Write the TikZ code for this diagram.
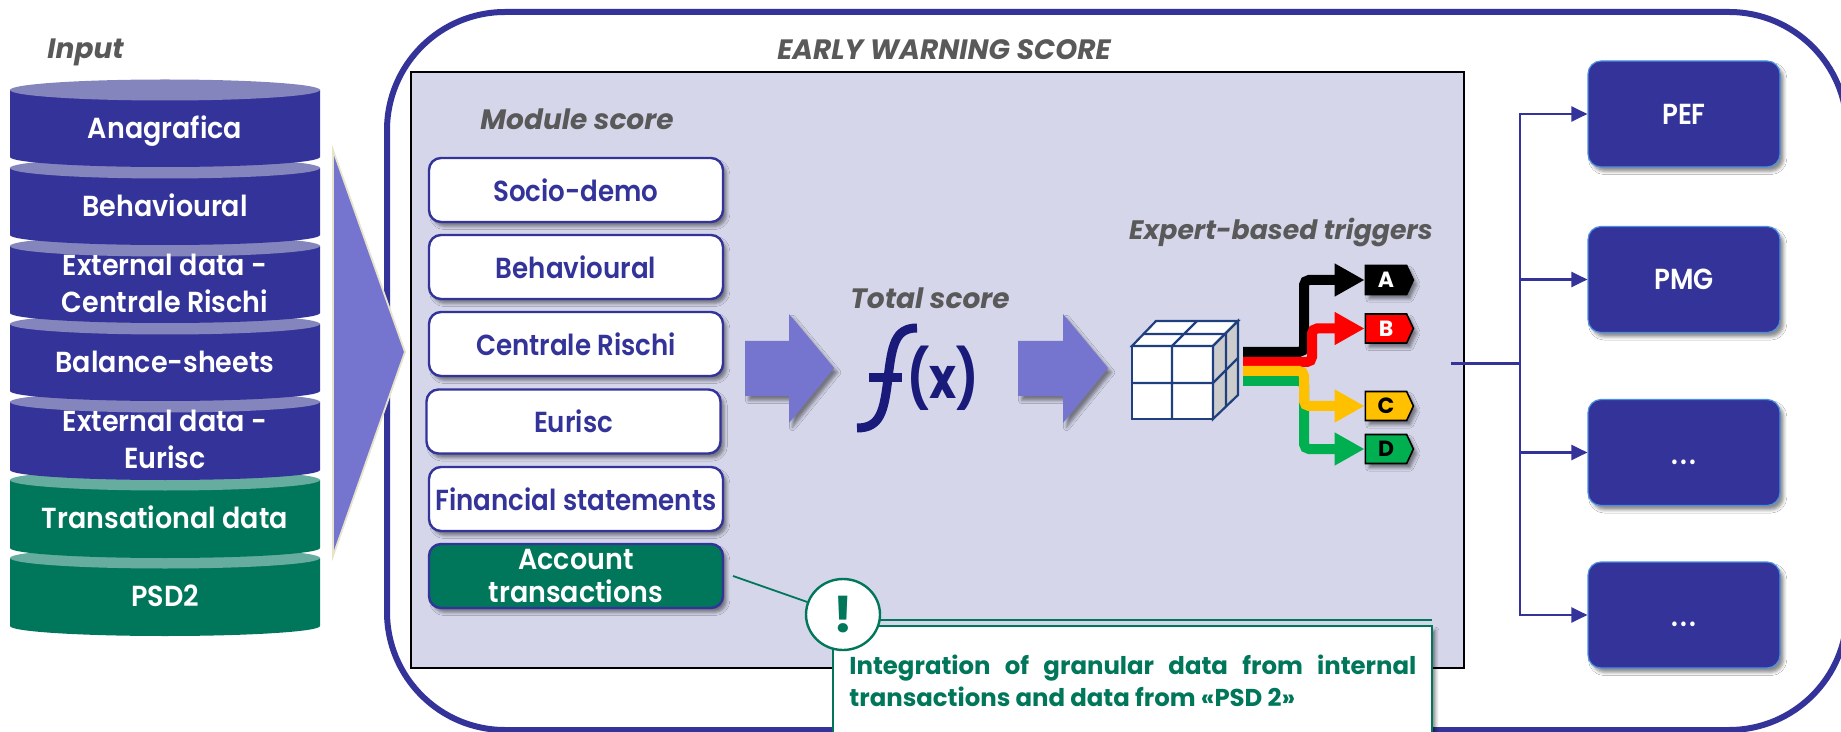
\documentclass[tikz,border=0pt]{standalone}
\usepackage{fontspec}
\setmainfont{Poppins}
\newfontfamily\cylf[FakeStretch=.93,BoldFont={Poppins SemiBold}]{Poppins}
\newfontfamily\modf[FakeStretch=.90,BoldFont={Poppins SemiBold}]{Poppins}
\usetikzlibrary{shadows,shadows.blur,arrows.meta,shapes.geometric,shapes.symbols}
\definecolor{navy}{HTML}{333399}
\definecolor{navyl}{HTML}{8585BD}
\definecolor{teal}{HTML}{00775A}
\definecolor{teall}{HTML}{66ADA0}
\definecolor{panel}{HTML}{D5D6EA}
\definecolor{arrowc}{HTML}{7575D0}
\definecolor{greyt}{HTML}{595959}
\definecolor{fxc}{HTML}{1A1A7A}
\definecolor{cubeb}{HTML}{1F3F7F}
\definecolor{tripg}{HTML}{00B050}
\definecolor{tripy}{HTML}{FFC000}
\definecolor{edgeb}{HTML}{4A90E2}
\definecolor{cream}{HTML}{E8E4CC}
\tikzset{
  softshadow/.style={blur shadow={shadow xshift=1.8pt,shadow yshift=-2.2pt,shadow blur radius=1.6pt,shadow opacity=45}},
  lab/.style={font=\cylf\fontsize{14.5}{18.5}\selectfont\bfseries,align=center,inner sep=0,text=white},
  head/.style={font=\fontsize{14}{16}\selectfont\bfseries\itshape,text=greyt,inner sep=0},
  mod/.style={draw=navy,line width=1.2pt,fill=white,rounded corners=6pt,minimum width=147pt,minimum height=32pt,inner sep=0,softshadow,font=\modf\fontsize{14.5}{16.5}\selectfont\bfseries,align=center,text=navy},
  outbox/.style={draw=edgeb,line width=.6pt,fill=navy,rounded corners=6.5pt,minimum width=96pt,minimum height=53pt,inner sep=0,softshadow,font=\modf\fontsize{14.5}{16.5}\selectfont\bfseries,text=white},
  fat/.style={line width=5pt,rounded corners=2.5pt,-{Triangle[length=15pt,width=15.5pt]}},
  tag/.style={signal,signal to=east,signal pointer angle=130,draw=black,line width=.8pt,minimum width=24pt,minimum height=14.5pt,inner sep=0,softshadow,font=\fontsize{11}{12}\selectfont\bfseries},
  link/.style={draw=navy,line width=1.2pt},
  linka/.style={link,-{Triangle[length=8pt,width=7.5pt]}},
  bigarrow/.style={fill=arrowc,softshadow},
}
\newcommand{\can}[4]{% side top, side bottom, body, light
  \fill[#3] (10,#1) -- (10,#2) arc[start angle=180,end angle=0,x radius=155,y radius=10] -- (320,#1) -- cycle;
  \fill[#4] (165,#1) ellipse[x radius=155,y radius=10.5];
}
\begin{document}
\begin{tikzpicture}[x=.5pt,y=-.5pt]
\useasboundingbox (0,0) rectangle (1841,732);
\begin{scope}
\clip (0,0) rectangle (1841,732);
% outer frame
\draw[navy,line width=3pt,fill=white,rounded corners=59pt] (387,12) rectangle (1847,730);
\end{scope}
% stacked cylinders, drawn bottom up
\can{558}{626}{teal}{teall}
\can{480}{548}{teal}{teall}
\can{402}{470}{navy}{navyl}
\can{324}{391}{navy}{navyl}
\can{246}{313}{navy}{navyl}
\can{168}{235}{navy}{navyl}
\can{90}{157}{navy}{navyl}
\node[lab] (ca) at (165,131) {Anagrafica};
\node[lab] (cb) at (165,205) {Behavioural};
\node[lab] (cc) at (165,283) {External data -\\Centrale Rischi};
\node[lab] (cd) at (165,362) {Balance-sheets};
\node[lab] (ce) at (165,439) {External data -\\Eurisc};
\node[lab] (cf) at (165,517) {Transational data};
\node[lab] (cg) at (165,596) {PSD2};
\node[head,anchor=west] (input) at (47,52) {Input};
% panel
\node[draw=black,line width=1.3pt,fill=panel,minimum width=526.5pt,minimum height=298pt,inner sep=0] (panel) at (937.5,370) {};
% big input arrow
\draw[draw=cream,line width=.9pt,fill=arrowc] (333,150) -- (405,352) -- (333,556) -- cycle;
\node[head] (ews) at (944,50) {EARLY WARNING SCORE};
\node[head] (mscore) at (577,119) {Module score};
\node[head] (tscore) at (930,298) {Total score};
\node[head,font=\fontsize{13.35}{16}\selectfont\bfseries\itshape] (etrig) at (1281,232) {Expert-based triggers};
% modules
\node[mod] (m1) at (576,190) {Socio-demo};
\node[mod] (m2) at (576,267) {Behavioural};
\node[mod] (m3) at (576,344) {Centrale Rischi};
\node[mod] (m4) at (573.5,421.5) {Eurisc};
\node[mod] (m5) at (576,499) {Financial statements};
\node[mod,fill=teal,text=white,font=\cylf\fontsize{14.5}{16.5}\selectfont\bfseries] (m6) at (576,576) {Account\\transactions};
% flow arrows
\fill[bigarrow] (745,341) -- (789,341) -- (789,314) -- (834,368) -- (789,423) -- (789,396) -- (745,396) -- cycle;
\fill[bigarrow] (1018,341) -- (1063,341) -- (1063,314) -- (1108,368) -- (1063,423) -- (1063,396) -- (1018,396) -- cycle;
% f(x)
\draw[fxc,line width=4.5pt] (917,328) .. controls (895,328) and (892,345) .. (888,378) .. controls (884,412) and (880,428) .. (857,428);
\draw[fxc,line width=4.5pt] (869,378) -- (902,378);
\node[font=\fontsize{23}{25}\selectfont\bfseries,text=fxc,inner sep=0] (fx) at (943,378) {\scalebox{1}[1.25]{(x)}};
% cube
\draw[cubeb,line width=1.1pt,fill=white] (1132,346) rectangle (1213,419);
\draw[cubeb,line width=1.1pt,fill=white] (1132,346) -- (1156,321) -- (1238,321) -- (1213,346) -- cycle;
\draw[cubeb,line width=1.1pt,fill=black!20] (1213,346) -- (1238,321) -- (1238,395) -- (1213,419) -- cycle;
\draw[cubeb,line width=1.1pt] (1172,346) -- (1172,419) (1132,383) -- (1213,383) -- (1238,358);
\draw[cubeb,line width=1.1pt] (1143,334) -- (1226,334) -- (1226,406) (1172,346) -- (1197,321);
% tags
\node[tag,fill=black,text=white] (ta) at (1386,280) {A};
\node[tag,fill=red,text=white] (tb) at (1386,328.5) {B};
\node[tag,fill=tripy,text=black] (tc) at (1386,406) {C};
\node[tag,fill=tripg,text=black] (td) at (1386,449) {D};
\coordinate (sa) at (1243,352);
\coordinate (sb) at (1243,362);
\coordinate (sc) at (1243,371);
\coordinate (sd) at (1243,381);
\draw[fat,tripg] (sd) -- (1304,381) -- (1304,449) -- (td.west);
\draw[fat,black] (sa) -- (1304,352) -- (1304,280) -- (ta.west);
\draw[fat,red] (sb) -- (1312,362) -- (1312,328.5) -- (tb.west);
\draw[fat,tripy] (sc) -- (1304,371) -- (1304,406) -- (tc.west);
% output
\node[outbox] (o1) at (1684,114) {PEF};
\node[outbox] (o2) at (1684,279.5) {PMG};
\node[outbox,text height=11.5pt,text depth=0pt] (o3) at (1684,452.5) {.\kern1.2pt.\kern1.2pt.};
\node[outbox,text height=11.5pt,text depth=0pt] (o4) at (1684,615) {.\kern1.2pt.\kern1.2pt.};
\coordinate (os) at (1451,364);
\coordinate (bus) at (1520,364);
\draw[link,line width=1.5pt] (os) -- (bus);
\draw[linka] (bus) |- (o1.west);
\draw[linka] (bus) |- (o2.west);
\draw[linka] (bus) |- (o3.west);
\draw[linka] (bus) |- (o4.west);
% note
\coordinate (nstart) at (733,576);
\begin{scope}
\clip (0,0) rectangle (1841,732);
\draw[teal,line width=1pt] (880,620) -- (1432,620);
\node[draw=teal,line width=.9pt,fill=white,minimum width=299.5pt,minimum height=80pt,inner sep=0,softshadow] (nbox) at (1132.5,706) {};
\end{scope}
\node[draw=teal,line width=1.2pt,fill=white,ellipse,minimum width=37pt,minimum height=35.5pt,inner sep=0,font=\fontsize{25}{27}\selectfont\bfseries,text=teal] (excl) at (843,614.5) {!};
\draw[teal,line width=.9pt] (nstart) -- (excl);
\node[anchor=north west,text width=283.5pt,align=justify,inner sep=0,font=\fontsize{12.2}{16}\selectfont\bfseries,text=teal] (note) at (849,655) {Integration of granular data from internal transactions and data from «PSD 2»};
\end{tikzpicture}
\end{document}
